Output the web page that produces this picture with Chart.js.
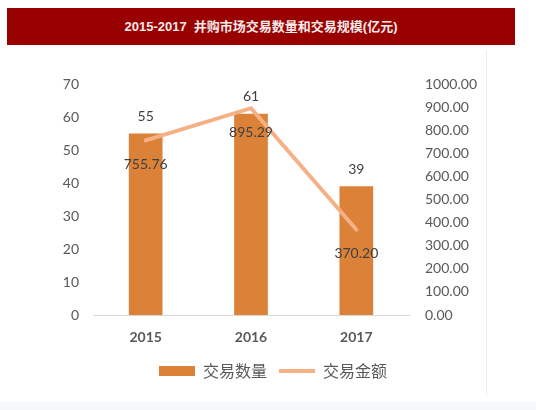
<!DOCTYPE html>
<html>
<head>
<meta charset="utf-8">
<script src="https://cdn.jsdelivr.net/npm/chart.js@4.4.1/dist/chart.umd.min.js"></script>
<style>
  html, body { margin:0; padding:0; background:#ffffff; }
  body { width:536px; height:410px; position:relative; overflow:hidden; }
  #title { position:absolute; left:7px; top:8px; width:508px; height:37px; background:#990000;
    color:#f7eaea; font:bold 13px "Liberation Sans","Noto Sans CJK SC",sans-serif; line-height:37px; text-align:center; white-space:pre; }
  #vline { position:absolute; left:486px; top:50px; width:1px; height:345px; background:#eceef0; }
  #bottom { position:absolute; left:0; top:402px; width:536px; height:8px; background:#f5f7fa; }
  #wrap { position:absolute; left:0; top:50px; width:486px; height:350px; }
</style>
</head>
<body>
<div id="title">2015-2017  并购市场交易数量和交易规模(亿元)</div>
<div id="vline"></div>
<div id="bottom"></div>
<div id="wrap"><canvas id="c"></canvas></div>
<script>
const categories = ['2015', '2016', '2017'];
const dealCounts = [55, 61, 39];
const dealAmounts = [755.76, 895.29, 370.20];
const countLabel = '交易数量';
const amountLabel = '交易金额';

const valueLabels = {
  id: 'valueLabels',
  afterDatasetsDraw(chart) {
    const ctx = chart.ctx;
    ctx.save();
    ctx.font = '14px Lato, "Noto Sans", sans-serif';
    ctx.fillStyle = '#404040';
    ctx.textAlign = 'center';
    ctx.textBaseline = 'middle';
    const barMeta = chart.getDatasetMeta(0);
    barMeta.data.forEach((el, i) => {
      ctx.fillText(String(dealCounts[i]), el.x, el.y - 17);
    });
    const lineMeta = chart.getDatasetMeta(1);
    lineMeta.data.forEach((el, i) => {
      ctx.fillText(dealAmounts[i].toFixed(2), el.x, el.y + 24);
    });
    ctx.restore();
  }
};

new Chart(document.getElementById('c'), {
  data: {
    labels: categories,
    datasets: [
      {
        type: 'bar', label: countLabel, data: dealCounts, yAxisID: 'y',
        backgroundColor: '#db8238', borderWidth: 0, borderColor: '#db8238',
        barPercentage: 0.64, categoryPercentage: 0.5, pointStyle: 'rect', order: 2
      },
      {
        type: 'line', label: amountLabel, data: dealAmounts, yAxisID: 'y1',
        borderColor: '#f5b185', backgroundColor: '#f5b185', borderWidth: 4,
        pointRadius: 0, pointHoverRadius: 0, pointStyle: 'line', tension: 0,
        borderCapStyle: 'round', order: 1
      }
    ]
  },
  options: {
    responsive: true, maintainAspectRatio: false, animation: false,
    layout: { padding: { top: 34, left: 60, right: 0, bottom: 11 } },
    plugins: {
      tooltip: { enabled: false },
      legend: {
        position: 'bottom',
        labels: {
          usePointStyle: true, pointStyleWidth: 36, boxHeight: 10,
          color: '#595959', padding: 12,
          font: { family: '"Noto Sans CJK SC", sans-serif', size: 16 },
          sort: (a, b) => a.datasetIndex - b.datasetIndex
        }
      }
    },
    scales: {
      x: {
        grid: { display: false },
        border: { display: true, color: '#d9d9d9', width: 1 },
        ticks: { color: '#595959', font: { family: 'Lato, sans-serif', size: 14, weight: 'bold' }, padding: 6 },
        afterFit(s) { s.height = 36; }
      },
      y: {
        position: 'left', min: 0, max: 70,
        grid: { display: false, drawTicks: false },
        border: { display: false },
        ticks: { stepSize: 10, color: '#595959', padding: 14, font: { family: 'Lato, sans-serif', size: 14 } },
        afterFit(s) { s.width = 33; }
      },
      y1: {
        position: 'right', min: 0, max: 1000,
        grid: { display: false, drawTicks: false },
        border: { display: false },
        ticks: { stepSize: 100, color: '#595959', padding: 16, font: { family: 'Lato, sans-serif', size: 14 },
          callback: v => Number(v).toFixed(2) },
        afterFit(s) { s.width = 77; }
      }
    }
  },
  plugins: [valueLabels]
});
</script>
</body>
</html>
